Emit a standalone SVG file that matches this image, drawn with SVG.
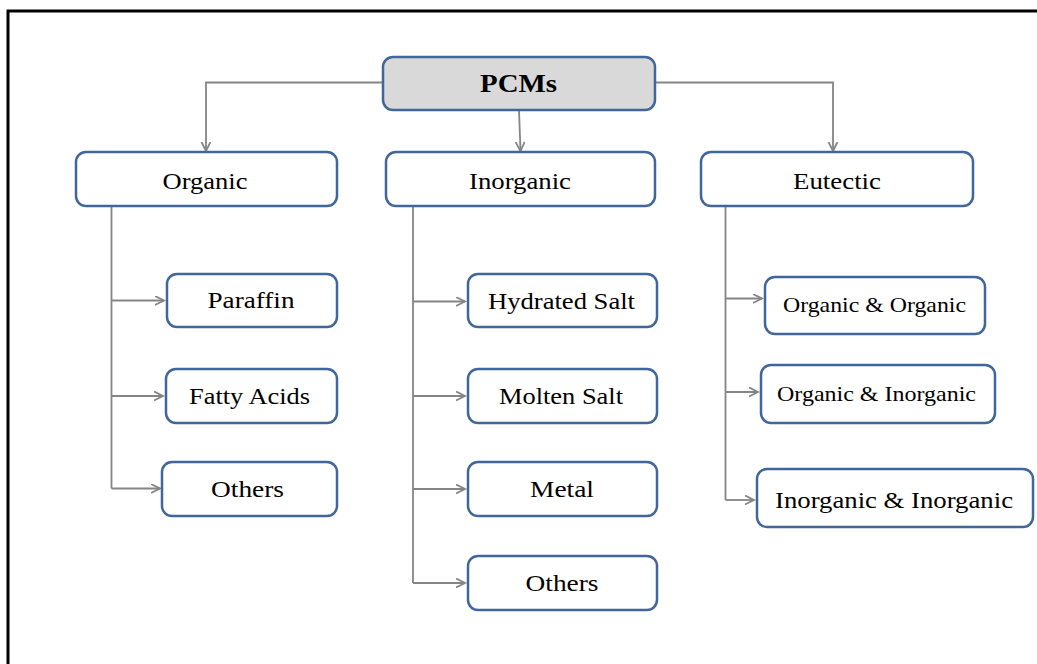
<svg xmlns="http://www.w3.org/2000/svg" width="1037" height="664" viewBox="0 0 1037 664">
<defs>
<style>
.box{fill:#ffffff;stroke:#41669a;stroke-width:2.5}
.root{fill:#d9d9d9;stroke:#41669a;stroke-width:2.5}
.t{font-family:"Liberation Serif","Times New Roman",serif;font-size:24px;fill:#000;text-anchor:middle}
.ts{font-size:22px}
.tb{font-weight:bold;font-size:26px}
.c{fill:none;stroke:#858585;stroke-width:1.8}
</style>
<marker id="arr" markerUnits="userSpaceOnUse" markerWidth="12" markerHeight="12" refX="9.5" refY="5" orient="auto">
<path d="M0.5,0.5 L9.5,5 L0.5,9.5" fill="none" stroke="#858585" stroke-width="1.8"/>
</marker>
</defs>
<rect width="1037" height="664" fill="#ffffff"/>
<path d="M8,664 V11 H1037" fill="none" stroke="#000" stroke-width="3"/>
<g id="connectors">
<path class="c" d="M383,82.5 H206 V151" marker-end="url(#arr)"/>
<path class="c" d="M519,110 L520.5,151" marker-end="url(#arr)"/>
<path class="c" d="M655,82.5 H833 V151" marker-end="url(#arr)"/>
<path class="c" d="M111.5,207 V488.5"/>
<path class="c" d="M111.5,300.5 H164" marker-end="url(#arr)"/>
<path class="c" d="M111.5,396 H163" marker-end="url(#arr)"/>
<path class="c" d="M111.5,488.5 H160" marker-end="url(#arr)"/>
<path class="c" d="M413,207 V583"/>
<path class="c" d="M413,301.5 H465" marker-end="url(#arr)"/>
<path class="c" d="M413,396 H465" marker-end="url(#arr)"/>
<path class="c" d="M413,489 H465" marker-end="url(#arr)"/>
<path class="c" d="M413,583 H465" marker-end="url(#arr)"/>
<path class="c" d="M725.5,205 V500"/>
<path class="c" d="M725.5,298.5 H762" marker-end="url(#arr)"/>
<path class="c" d="M725.5,392 H758" marker-end="url(#arr)"/>
<path class="c" d="M725.5,500 H754" marker-end="url(#arr)"/>
</g>
<g id="pcms"><rect class="root" x="383" y="57" width="272" height="53" rx="10"/><text class="t tb" x="518.5" y="92" textLength="77" lengthAdjust="spacingAndGlyphs">PCMs</text></g>
<g id="organic"><rect class="box" x="76" y="152" width="261" height="54" rx="10"/><text class="t" x="205" y="188.5" textLength="85" lengthAdjust="spacingAndGlyphs">Organic</text></g>
<g id="inorganic"><rect class="box" x="386" y="152" width="269" height="54" rx="10"/><text class="t" x="520" y="188.5" textLength="102" lengthAdjust="spacingAndGlyphs">Inorganic</text></g>
<g id="eutectic"><rect class="box" x="701" y="152" width="272" height="54" rx="10"/><text class="t" x="837" y="188.5" textLength="88" lengthAdjust="spacingAndGlyphs">Eutectic</text></g>
<g id="paraffin"><rect class="box" x="167" y="274" width="170" height="53" rx="10"/><text class="t" x="251" y="308" textLength="87" lengthAdjust="spacingAndGlyphs">Paraffin</text></g>
<g id="fatty-acids"><rect class="box" x="166" y="369" width="171" height="54" rx="10"/><text class="t" x="249.5" y="404" textLength="121" lengthAdjust="spacingAndGlyphs">Fatty Acids</text></g>
<g id="others-organic"><rect class="box" x="162" y="462" width="175" height="54" rx="10"/><text class="t" x="247.5" y="497" textLength="73" lengthAdjust="spacingAndGlyphs">Others</text></g>
<g id="hydrated-salt"><rect class="box" x="468" y="274" width="189" height="53" rx="10"/><text class="t" x="561.5" y="308.5" textLength="147" lengthAdjust="spacingAndGlyphs">Hydrated Salt</text></g>
<g id="molten-salt"><rect class="box" x="468" y="369" width="189" height="54" rx="10"/><text class="t" x="561" y="404" textLength="124" lengthAdjust="spacingAndGlyphs">Molten Salt</text></g>
<g id="metal"><rect class="box" x="468" y="462" width="189" height="54" rx="10"/><text class="t" x="562" y="497" textLength="64" lengthAdjust="spacingAndGlyphs">Metal</text></g>
<g id="others-inorganic"><rect class="box" x="468" y="556" width="189" height="54" rx="10"/><text class="t" x="562" y="591" textLength="73" lengthAdjust="spacingAndGlyphs">Others</text></g>
<g id="organic-organic"><rect class="box" x="765" y="277" width="220" height="57" rx="10"/><text class="t ts" x="874.5" y="311.5" textLength="183" lengthAdjust="spacingAndGlyphs">Organic &amp; Organic</text></g>
<g id="organic-inorganic"><rect class="box" x="761" y="365" width="234" height="58" rx="10"/><text class="t ts" x="876.5" y="400.5" textLength="199" lengthAdjust="spacingAndGlyphs">Organic &amp; Inorganic</text></g>
<g id="inorganic-inorganic"><rect class="box" x="757" y="469" width="276" height="58" rx="10"/><text class="t" x="894" y="507.5" textLength="238" lengthAdjust="spacingAndGlyphs">Inorganic &amp; Inorganic</text></g>
</svg>
